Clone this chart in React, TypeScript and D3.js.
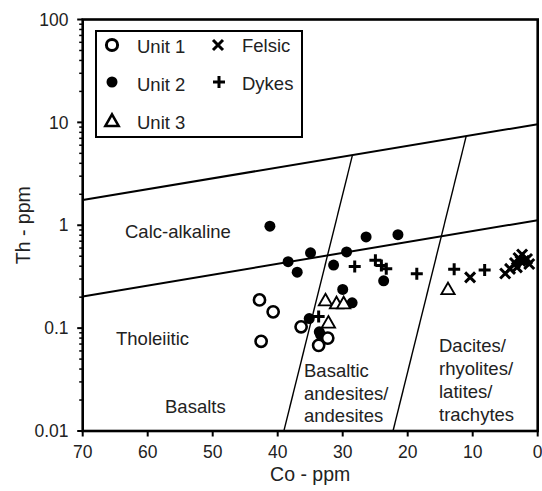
import React from "react";
import * as d3 from "d3";

// ---- data (Co ppm, Th ppm) ----
const unit1 = [
  [42.8, 0.188], [40.7, 0.144], [42.55, 0.0745], [36.4, 0.103], [32.3, 0.08], [33.7, 0.068],
];
const unit2 = [
  [41.2, 0.98], [26.4, 0.77], [21.5, 0.81], [34.95, 0.54], [29.4, 0.55], [38.4, 0.443],
  [31.4, 0.41], [37.0, 0.35], [23.7, 0.288], [30.0, 0.238], [28.55, 0.176], [35.15, 0.124],
  [33.6, 0.092], [33.4, 0.086],
];
const unit3 = [
  [32.65, 0.186], [30.95, 0.174], [29.85, 0.174], [32.2, 0.113], [13.8, 0.239],
];
const felsic = [
  [10.4, 0.311], [5.0, 0.34], [4.25, 0.377], [3.5, 0.43], [2.95, 0.48], [2.4, 0.52],
  [2.1, 0.45], [1.64, 0.47], [1.3, 0.42], [3.2, 0.39], [2.65, 0.45],
];
const dykes = [
  [28.15, 0.398], [24.97, 0.457], [24.05, 0.407], [23.3, 0.377], [18.6, 0.337],
  [12.85, 0.374], [8.16, 0.368], [33.7, 0.13],
];

const upperLine = [[70, 1.76], [0, 9.6]];
const lowerLine = [[70, 0.203], [0, 1.12]];
const basaltLine = [[39.05, 0.01], [28.5, 4.81]];
const daciteLine = [[22.26, 0.01], [11.0, 7.36]];

const xTicks = [70, 60, 50, 40, 30, 20, 10, 0];
const yTicks = [0.01, 0.1, 1, 10, 100];
const yTickLabels = ["0.01", "0.1", "1", "10", "100"];

const FONT = "'Liberation Sans', Arial, sans-serif";

export default function App() {
  const left = 82.7, right = 537.7, top = 19.5, bottom = 431;
  const x = d3.scaleLinear().domain([70, 0]).range([left, right]);
  const y = d3.scaleLog().domain([0.01, 100]).range([bottom, top]);

  const minorTicks: number[] = [];
  for (let e = -2; e < 2; e++) {
    for (let m = 2; m <= 9; m++) minorTicks.push(m * Math.pow(10, e));
  }

  const seg = (pts: number[][], w: number, key: string) => (
    <line key={key} x1={x(pts[0][0])} y1={y(pts[0][1])} x2={x(pts[1][0])} y2={y(pts[1][1])}
      stroke="#000" strokeWidth={w} />
  );

  const openCircle = (cx: number, cy: number, k: string, sw = 2.6) => (
    <circle key={k} cx={cx} cy={cy} r={5.6} fill="#fff" stroke="#000" strokeWidth={sw} />
  );
  const filledCircle = (cx: number, cy: number, k: string) => (
    <circle key={k} cx={cx} cy={cy} r={5.5} fill="#000" />
  );
  const triangle = (cx: number, cy: number, k: string, sw = 1.9) => {
    const s = 6.6;
    const p = `M${cx},${cy - s} L${cx + s},${cy + s * 0.75} L${cx - s},${cy + s * 0.75} Z`;
    return <path key={k} d={p} fill="#fff" stroke="#000" strokeWidth={sw} strokeLinejoin="miter" />;
  };
  const plus = (cx: number, cy: number, k: string) => (
    <path key={k} d={`M${cx - 6},${cy} H${cx + 6} M${cx},${cy - 6} V${cy + 6}`} stroke="#000" strokeWidth={3} />
  );
  const cross = (cx: number, cy: number, k: string) => (
    <path key={k} d={`M${cx - 5},${cy - 5} L${cx + 5},${cy + 5} M${cx - 5},${cy + 5} L${cx + 5},${cy - 5}`}
      stroke="#000" strokeWidth={3} />
  );

  return (
    <svg width={542} height={491} style={{ position: "absolute", left: 0, top: 0, background: "#fff" }}
      fontFamily={FONT}>
      <rect x={0} y={0} width={542} height={491} fill="#fff" />

      {/* region boundaries */}
      <defs>
        <clipPath id="plotclip">
          <rect x={left} y={top} width={right - left} height={bottom - top} />
        </clipPath>
      </defs>
      <g clipPath="url(#plotclip)">
        {seg(upperLine, 2, "u")}
        {seg(lowerLine, 2, "l")}
        {seg(basaltLine, 1.4, "b")}
        {seg(daciteLine, 1.4, "d")}
      </g>

      {/* region labels */}
      <g fontSize={18.5} fill="#222">
        <text x={125} y={237.5}>Calc-alkaline</text>
        <text x={116} y={345}>Tholeiitic</text>
        <text x={165} y={413}>Basalts</text>
        <text x={304} y={377}>Basaltic</text>
        <text x={304} y={400}>andesites/</text>
        <text x={304} y={422}>andesites</text>
        <text x={439} y={352}>Dacites/</text>
        <text x={439} y={375}>rhyolites/</text>
        <text x={439} y={398}>latites/</text>
        <text x={439} y={421}>trachytes</text>
      </g>

      {/* data */}
      <g>
        {unit2.map((d, i) => filledCircle(x(d[0]), y(d[1]), "u2" + i))}
        {unit1.map((d, i) => openCircle(x(d[0]), y(d[1]), "u1" + i))}
        {unit3.map((d, i) => triangle(x(d[0]), y(d[1]), "u3" + i))}
        {dykes.map((d, i) => plus(x(d[0]), y(d[1]), "dk" + i))}
        {felsic.map((d, i) => cross(x(d[0]), y(d[1]), "fe" + i))}
      </g>

      {/* frame */}
      <rect x={left} y={top} width={right - left} height={bottom - top} fill="none" stroke="#000" strokeWidth={2.6} />

      {/* y ticks */}
      {yTicks.map((t, i) => (
        <g key={"yt" + i}>
          <line x1={left - 5.5} x2={left} y1={y(t)} y2={y(t)} stroke="#000" strokeWidth={2} />
          <text x={68.5} y={y(t)} dy="0.35em" textAnchor="end" fontSize={17.5} fill="#222">{yTickLabels[i]}</text>
        </g>
      ))}
      {minorTicks.map((t, i) => (
        <line key={"ym" + i} x1={left - 3.5} x2={left} y1={y(t)} y2={y(t)} stroke="#000" strokeWidth={1.5} />
      ))}

      {/* x ticks */}
      {xTicks.map((t, i) => (
        <g key={"xt" + i}>
          <line x1={x(t)} x2={x(t)} y1={bottom} y2={bottom + 5.5} stroke="#000" strokeWidth={2} />
          <text x={x(t)} y={458} textAnchor="middle" fontSize={17.5} fill="#222">{t}</text>
        </g>
      ))}

      {/* axis titles */}
      <text x={x(35)} y={481} textAnchor="middle" fontSize={19.5} fill="#222">Co - ppm</text>
      <text transform={`translate(29.5,${(top + bottom) / 2}) rotate(-90)`} textAnchor="middle" fontSize={19.5} fill="#222">Th - ppm</text>

      {/* legend */}
      <rect x={96} y={31} width={206} height={106} fill="#fff" stroke="#000" strokeWidth={2} />
      {openCircle(112, 45, "lg1", 3)}
      {filledCircle(112, 82, "lg2")}
      {triangle(112, 121, "lg3", 2.6)}
      {cross(218, 45, "lg4")}
      {plus(219, 82, "lg5")}
      <g fontSize={18.5} fill="#222">
        <text x={137} y={53}>Unit 1</text>
        <text x={137} y={90.5}>Unit 2</text>
        <text x={137} y={129}>Unit 3</text>
        <text x={242} y={52}>Felsic</text>
        <text x={242} y={90}>Dykes</text>
      </g>
    </svg>
  );
}
